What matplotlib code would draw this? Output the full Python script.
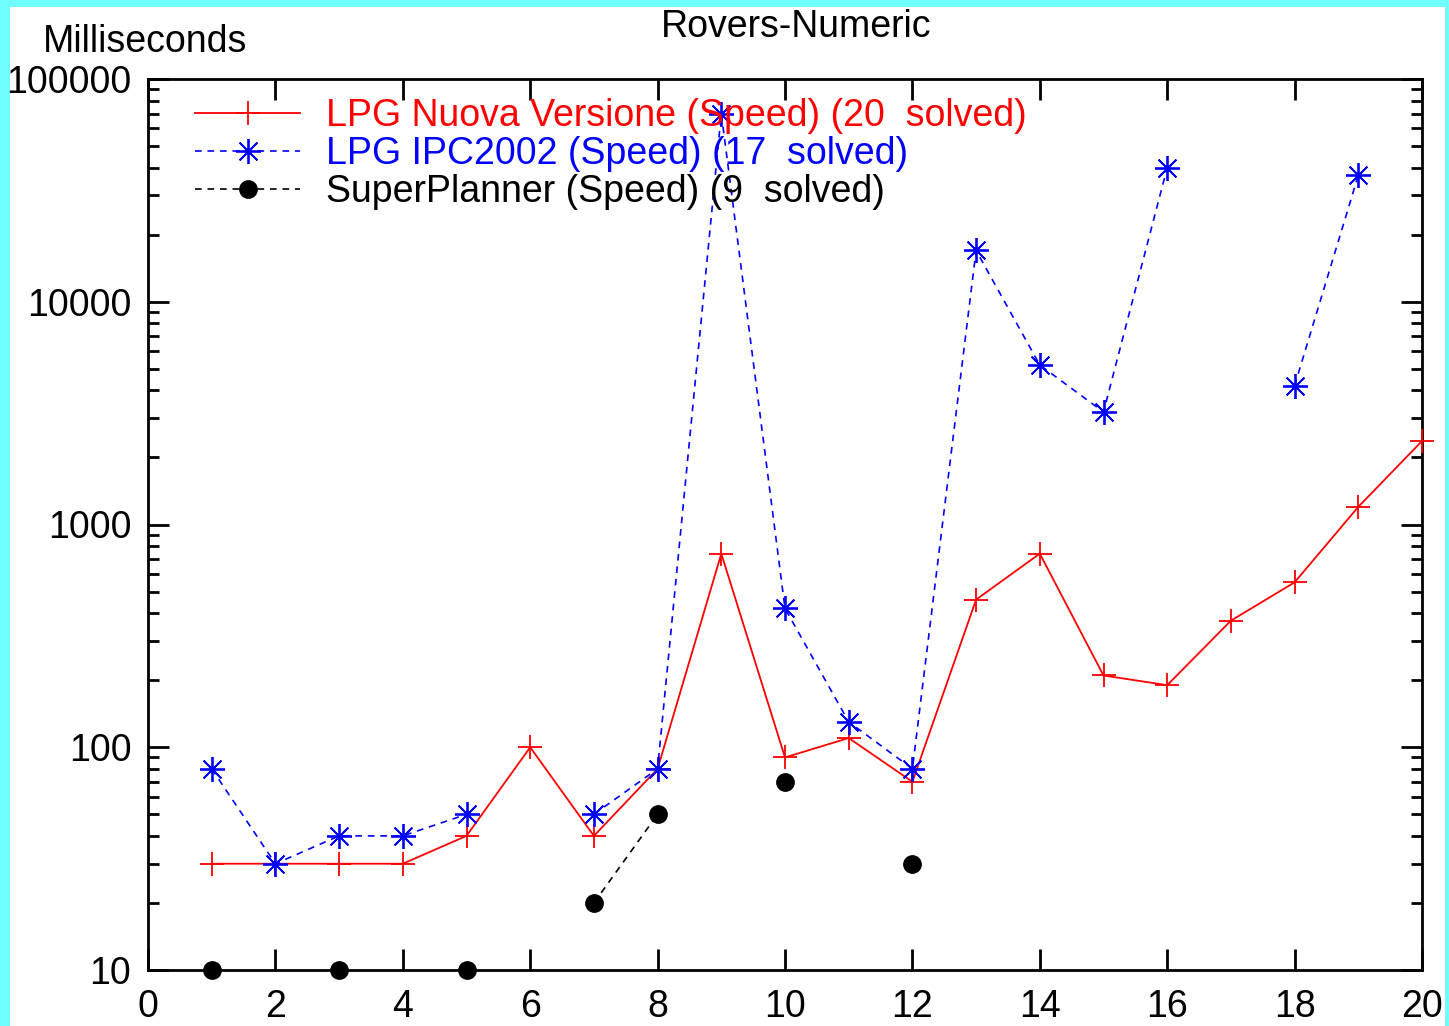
import numpy as np
import matplotlib
matplotlib.use("Agg")
import matplotlib.pyplot as plt
from matplotlib.patches import Rectangle
from matplotlib.ticker import LogLocator, FixedLocator, NullFormatter

plt.rcParams['font.family'] = ['Liberation Sans Narrow', 'Liberation Sans', 'DejaVu Sans']

nan = np.nan
x = list(range(1, 21))
lpg_new = [30, 30, 30, 30, 40, 100, 40, 80, 740, 90, 110, 70, 460, 740, 210, 190, 370, 550, 1200, 2370]
lpg_ipc = [80, 30, 40, 40, 50, nan, 50, 80, 70000, 420, 130, 80, 17000, 5200, 3200, 40000, nan, 4200, 37000, nan]
superplanner = [10, nan, 10, nan, 10, nan, 20, 50, nan, 70, nan, 30, nan, nan, nan, nan, nan, nan, nan, nan]
labels = ["LPG Nuova Versione (Speed) (20  solved)",
          "LPG IPC2002 (Speed) (17  solved)",
          "SuperPlanner (Speed) (9  solved)"]
xticks = [0, 2, 4, 6, 8, 10, 12, 14, 16, 18, 20]
yticks = [10, 100, 1000, 10000, 100000]
ytick_labels = ["10", "100", "1000", "10000", "100000"]

W, H = 1449, 1026
fig = plt.figure(figsize=(W / 100, H / 100), dpi=100)
fig.patch.set_facecolor('#70FFFF')
fig.add_artist(Rectangle((10 / W, 0), (1445 - 10) / W, (H - 7) / H,
                         transform=fig.transFigure, facecolor='white', edgecolor='none', zorder=0))

ax = fig.add_axes([148 / W, 1 - 970 / H, (1422 - 148) / W, (970 - 79) / H])
ax.set_facecolor('white')
ax.set_yscale('log')
ax.set_xlim(0, 20)
ax.set_ylim(10, 100000)

ax.plot(x, lpg_new, color='#FF0000', lw=1.3, marker='+', ms=17, mew=1.3,
        label=labels[0], clip_on=False, zorder=3)
ax.plot(x, lpg_ipc, color='#0000FF', lw=1.2, ls=(0, (4, 3.5)), marker=(8, 2, 0), ms=18, mew=1.3,
        label=labels[1], clip_on=False, zorder=3)
ax.plot(x, superplanner, color='black', lw=1.2, ls=(0, (4, 3.5)), marker='o', ms=12.5,
        label=labels[2], clip_on=False, zorder=4)

ax.set_xticks(xticks)
ax.set_xticklabels([str(t) for t in xticks])
ax.yaxis.set_major_locator(FixedLocator(yticks))
ax.set_yticklabels(ytick_labels)
ax.yaxis.set_minor_locator(LogLocator(base=10, subs=np.arange(2, 10)))
ax.yaxis.set_minor_formatter(NullFormatter())

ax.tick_params(which='major', direction='in', length=15, width=2, labelsize=27,
               top=True, right=True, pad=14)
ax.tick_params(axis='y', which='major', pad=12)
ax.tick_params(which='minor', direction='in', length=8, width=2, left=True, right=True)
ax.tick_params(axis='x', which='minor', bottom=False, top=False)
for s in ax.spines.values():
    s.set_linewidth(2)

leg = ax.legend(loc='upper left', bbox_to_anchor=(0.0255, 0.995), frameon=False, fontsize=27,
                handlelength=2.8, handletextpad=0.67, labelspacing=0.05, borderaxespad=0)
for txt, c in zip(leg.get_texts(), ['#FF0000', '#0000FF', 'black']):
    txt.set_color(c)

fig.text(43 / W, 1 - 42 / H, "Milliseconds", fontsize=27, ha='left', va='center')
fig.text(796 / W, 1 - 27 / H, "Rovers-Numeric", fontsize=27, ha='center', va='center')

fig.savefig("out.png", dpi=100)
